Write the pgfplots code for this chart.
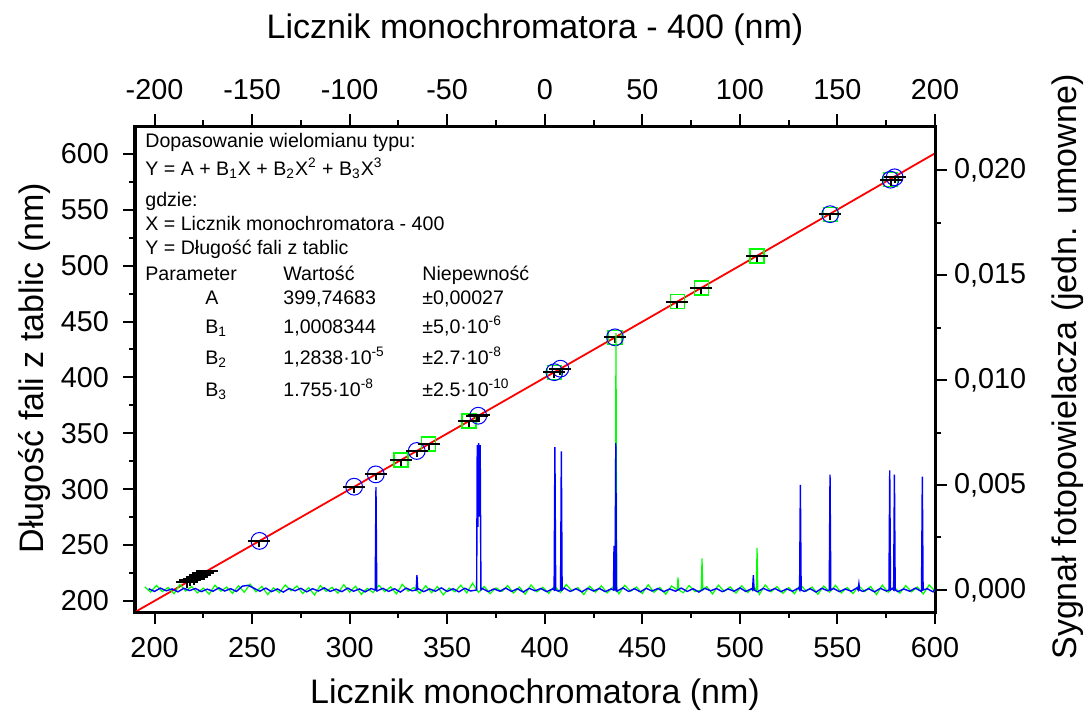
\documentclass[border=0pt]{standalone}
\usepackage{pgfplots}
\pgfplotsset{compat=1.18}
\usepackage{fontspec}
\setmainfont{Liberation Sans}

\definecolor{hgblue}{RGB}{0,0,255}
\definecolor{cdgreen}{RGB}{0,255,0}
\definecolor{fitred}{RGB}{255,0,0}

% horizontal bar with a short stem below the point
\pgfdeclareplotmark{tbar}{%
  \pgfpathmoveto{\pgfqpoint{-5.5pt}{0pt}}\pgfpathlineto{\pgfqpoint{5.5pt}{0pt}}%
  \pgfpathmoveto{\pgfqpoint{0pt}{0pt}}\pgfpathlineto{\pgfqpoint{0pt}{-3pt}}%
  \pgfusepathqstroke}

\newcommand{\tlfont}{\fontsize{14.4}{17}\selectfont}
\newcommand{\lblfont}{\fontsize{17}{20}\selectfont}
\newcommand{\boxfont}{\fontsize{9.8}{12}\selectfont}

\pgfplotsset{
  common/.style={
    scale only axis, width=400pt, height=243pt,
    xmin=190, xmax=600,
    tick align=outside,
    major tick length=6pt, minor tick length=3pt,
    every tick/.style={black, line width=1pt},
    axis line style={line width=1.5pt},
    tick label style={font=\tlfont},
    /pgf/number format/assume math mode=true,
  }
}

\begin{document}
\begin{tikzpicture}
\path[use as bounding box] (-67.5pt,-54pt) rectangle (475pt,306pt);

% wavelength calibration: table wavelength vs. counter reading
\begin{axis}[common,
  ymin=190, ymax=625,
  xtick={200,250,...,600}, minor x tick num=1,
  ytick={200,250,...,600}, minor y tick num=1,
  xtick pos=left, ytick pos=left,
  xticklabel style={yshift=-3pt},
  yticklabel style={xshift=-3.5pt},
]
% Cd lines
\addplot[only marks, mark=square, mark size=3.5pt, draw=cdgreen, line width=0.6pt,
  mark options={fill=none}] coordinates {
  (326.3,326.11) (340.6,340.37) (361.2,361.05) (404.9,404.66) (436.0,435.83)
  (468.0,467.82) (480.2,479.99) (508.8,508.58) (546.3,546.07) (577.2,576.96)
};
% Hg lines
\addplot[only marks, mark=o, mark size=4.2pt, draw=hgblue, line width=0.5pt] coordinates {
  (253.8,253.65) (302.3,302.15) (313.4,313.18) (334.4,334.15) (365.9,365.70)
  (404.9,404.66) (408.0,407.78) (436.0,435.83) (546.3,546.07) (577.2,576.96) (579.3,579.07)
};
% all measured positions
\addplot[only marks, mark=tbar, draw=black, line width=1pt] coordinates {
  (216.6,216.5) (218.4,218.3) (220.0,219.9) (221.6,221.5) (223.2,223.1) (225.0,224.9)
  (227.0,226.9)
  (253.8,253.65) (302.3,302.15) (313.4,313.18) (326.3,326.11) (334.4,334.15)
  (340.6,340.37) (361.2,361.05) (365.3,365.02) (366.5,366.33) (404.9,404.66)
  (408.0,407.78) (436.0,435.83) (468.0,467.82) (480.2,479.99) (508.8,508.58)
  (546.3,546.07) (577.2,576.96) (579.3,579.07)
};
% cubic fit
\addplot[fitred, line width=0.9pt] coordinates {
  (190,189.98) (250,249.85) (300,299.78) (350,349.74) (400,399.75)
  (450,449.82) (500,499.98) (550,550.22) (600,600.57)
};
\end{axis}

% photomultiplier signal, top counter axis
\begin{axis}[common,
  ymin=-0.00105, ymax=0.0221,
  xtick={200,250,...,600}, minor x tick num=1,
  xticklabels={-200,-150,-100,-50,0,50,100,150,200},
  ytick={0,0.005,0.01,0.015,0.02}, minor y tick num=1,
  xtick pos=right, ytick pos=right,
  xticklabel pos=right, yticklabel pos=right,
  scaled y ticks=false,
  yticklabel style={/pgf/number format/.cd, fixed, fixed zerofill, precision=3, use comma},
  xticklabel style={yshift=3.5pt},
]
% Cd lamp
\addplot[cdgreen, line width=0.6pt] coordinates {
  (195,1.5e-4) (198,-1.0e-4) (201,2.2e-4) (204,-0.8e-4) (207,1.2e-4) (210,-1.8e-4)
  (213,2.6e-4) (216,-0.5e-4) (219,1.6e-4) (222,-1.4e-4) (225,0.9e-4) (228,-2.0e-4)
  (231,2.3e-4) (234,-0.6e-4) (237,1.4e-4) (240,-1.6e-4) (243,2.0e-4) (246,-1.1e-4)
  (249,2.8e-4) (252,-0.9e-4) (255,1.7e-4) (258,-2.2e-4) (261,1.0e-4) (264,-1.3e-4)
  (267,2.4e-4) (270,-0.4e-4) (273,1.9e-4) (276,-1.7e-4) (279,1.1e-4) (282,-2.4e-4)
  (285,2.1e-4) (288,-0.7e-4) (291,1.3e-4) (294,-1.5e-4) (297,2.5e-4) (300,-1.0e-4)
  (303,1.8e-4) (306,-2.1e-4) (309,0.8e-4) (312,-1.2e-4) (315,2.2e-4) (318,-0.8e-4)
  (321,1.5e-4) (324,-1.9e-4) (327,2.7e-4) (330,-0.6e-4) (333,1.2e-4) (336,-1.6e-4)
  (339,2.0e-4) (342,-1.3e-4) (345,1.6e-4) (348,-2.3e-4) (351,0.9e-4) (354,-0.9e-4)
  (357,2.3e-4) (360,-1.4e-4) (363,3.2e-4) (366,-1.1e-4) (369,1.7e-4) (372,-1.8e-4)
  (375,1.0e-4) (378,-0.7e-4) (381,2.1e-4) (384,-1.5e-4) (387,1.4e-4) (390,-2.0e-4)
  (393,2.4e-4) (396,-0.9e-4) (399,1.3e-4) (402,-1.6e-4) (405,1.9e-4) (408,-1.2e-4)
  (411,2.6e-4) (414,-0.5e-4) (417,1.1e-4) (420,-2.2e-4) (423,1.8e-4) (426,-1.0e-4)
  (429,2.0e-4) (432,-1.4e-4) (435,1.5e-4)
  (436.1,0) (436.5,0.01224) (436.9,0)
  (438,-1.8e-4) (441,2.2e-4) (444,-0.6e-4) (447,1.4e-4) (450,-1.7e-4) (453,2.5e-4)
  (456,-1.1e-4) (459,1.2e-4) (462,-2.0e-4) (465,1.9e-4)
  (467.9,0) (468.3,0.0006) (468.7,0)
  (471,-1.3e-4) (474,2.1e-4) (477,-0.8e-4)
  (480.2,0) (480.6,0.0015) (481.0,0)
  (483,1.6e-4) (486,-1.9e-4) (489,2.3e-4) (492,-0.7e-4) (495,1.5e-4) (498,-1.5e-4)
  (501,2.0e-4) (504,-1.2e-4) (507,1.3e-4)
  (508.4,0) (508.8,0.0020) (509.2,0)
  (510,-2.1e-4) (513,2.4e-4) (516,-0.9e-4) (519,1.6e-4) (522,-1.6e-4) (525,1.1e-4)
  (528,-1.8e-4) (531,2.6e-4) (534,-0.6e-4) (537,1.4e-4) (540,-2.0e-4) (543,1.9e-4)
  (546,-1.0e-4) (549,2.2e-4) (552,-1.4e-4) (555,1.2e-4) (558,-1.7e-4) (561,2.0e-4)
  (564,-0.8e-4) (567,1.7e-4) (570,-2.2e-4) (573,2.3e-4) (576,-1.1e-4) (579,1.5e-4)
  (582,-1.5e-4) (585,2.1e-4) (588,-0.9e-4) (591,1.4e-4) (594,-1.9e-4) (597,2.4e-4)
  (600,-0.6e-4)
};
% Hg lamp
\addplot[hgblue, line width=0.7pt] coordinates {
  (197,0.6e-4) (200,-0.7e-4) (203,0.9e-4) (206,-0.4e-4) (209,0.5e-4) (212,-0.9e-4)
  (215,0.8e-4) (218,-0.3e-4) (221,0.7e-4) (224,-0.8e-4) (227,0.4e-4) (230,-0.6e-4)
  (233,1.0e-4) (236,-0.5e-4) (239,0.6e-4) (242,-0.7e-4) (245,1.8e-4) (248,2.2e-4)
  (251,0.8e-4) (254,-0.6e-4) (257,0.9e-4) (260,-0.8e-4) (263,0.5e-4) (266,-1.0e-4)
  (269,0.7e-4) (272,-0.4e-4) (275,0.8e-4) (278,-0.9e-4) (281,0.6e-4) (284,-0.5e-4)
  (287,1.0e-4) (290,-0.7e-4) (293,0.4e-4) (296,-0.8e-4) (299,0.9e-4) (302,-0.6e-4)
  (305,0.5e-4) (308,-0.9e-4) (311,0.7e-4)
  (313.1,0) (313.5,0.0049) (313.9,0)
  (314,-0.5e-4) (317,0.8e-4) (320,-0.7e-4) (323,0.6e-4) (326,-1.0e-4) (329,0.9e-4)
  (332,-0.4e-4)
  (334.1,0) (334.5,0.0007) (334.9,0)
  (335,0.7e-4) (338,-0.8e-4) (341,0.5e-4) (344,-0.6e-4) (347,1.0e-4) (350,-0.7e-4)
  (353,0.6e-4) (356,-0.9e-4) (359,0.8e-4) (362,-0.5e-4)
  (365.1,0) (365.4,0.0069) (365.7,0.0030) (366.1,0.0070) (366.5,0.0035) (366.9,0.0069) (367.3,0)
  (368,0.7e-4) (371,-0.8e-4) (374,0.5e-4) (377,-0.6e-4) (380,0.9e-4) (383,-0.7e-4)
  (386,0.6e-4) (389,-1.0e-4) (392,0.8e-4) (395,-0.4e-4) (398,0.7e-4) (401,-0.8e-4)
  (404,0.5e-4)
  (404.8,0) (405.2,0.0068) (405.6,0)
  (407,-0.6e-4)
  (408.1,0) (408.5,0.0066) (408.9,0)
  (410,0.9e-4) (413,-0.7e-4) (416,0.6e-4) (419,-0.9e-4) (422,0.8e-4) (425,-0.5e-4)
  (428,0.7e-4) (431,-0.8e-4) (434,0.5e-4)
  (435.2,0) (435.5,0.0021) (435.8,0) (436.0,0) (436.4,0.0070) (436.8,0)
  (437,-0.6e-4) (440,1.0e-4) (443,-0.7e-4) (446,0.6e-4) (449,-0.9e-4) (452,0.8e-4)
  (455,-0.5e-4) (458,0.7e-4) (461,-0.8e-4) (464,0.5e-4) (467,-0.6e-4) (470,0.9e-4)
  (473,-0.7e-4) (476,0.6e-4) (479,-1.0e-4) (482,0.8e-4) (485,-0.4e-4) (488,0.7e-4)
  (491,-0.8e-4) (494,0.5e-4) (497,-0.6e-4) (500,1.0e-4) (503,-0.7e-4) (506,0.6e-4)
  (506.5,0) (506.9,0.0007) (507.3,0)
  (509,-0.9e-4) (512,0.8e-4) (515,-0.5e-4) (518,0.7e-4) (521,-0.8e-4) (524,0.5e-4)
  (527,-0.6e-4) (530,0.9e-4)
  (530.6,0) (531.0,0.0050) (531.4,0)
  (533,-0.7e-4) (536,0.6e-4) (539,-1.0e-4) (542,0.8e-4) (545,-0.4e-4)
  (545.8,0) (546.2,0.0055) (546.6,0)
  (548,0.7e-4) (551,-0.8e-4) (554,0.5e-4) (557,-0.6e-4) (560,1.0e-4)
  (560.6,0) (561.0,0.0003) (561.4,0)
  (563,-0.7e-4) (566,0.6e-4) (569,-0.9e-4) (572,0.8e-4) (575,-0.5e-4)
  (576.4,0) (576.8,0.0057) (577.2,0)
  (578,0.7e-4)
  (578.8,0) (579.2,0.0055) (579.6,0)
  (581,-0.8e-4) (584,0.5e-4) (587,-0.6e-4) (590,0.9e-4) (593,-0.7e-4)
  (593.1,0) (593.5,0.0054) (593.9,0)
  (596,0.6e-4) (599,-0.9e-4) (600,0.3e-4)
};
\end{axis}

% axis titles
\node[font=\lblfont] at (200pt,-41.5pt) {Licznik monochromatora (nm)};
\node[font=\lblfont] at (200pt,291pt) {Licznik monochromatora - 400 (nm)};
\node[font=\lblfont, rotate=90] at (-50pt,122pt) {Długość fali z tablic (nm)};
\node[font=\lblfont, rotate=90] at (466.5pt,122.5pt) {Sygnał fotopowielacza (jedn. umowne)};

% fit summary
\begin{scope}[every node/.style={font=\boxfont, anchor=base west, inner sep=0pt}]
\node at (5pt,232.5pt) {Dopasowanie wielomianu typu:};
\node at (5pt,218.5pt) {Y = A + B\textsubscript{1}X + B\textsubscript{2}X\textsuperscript{2} + B\textsubscript{3}X\textsuperscript{3}};
\node at (5pt,203pt) {gdzie:};
\node at (5pt,191pt) {X = Licznik monochromatora - 400};
\node at (5pt,179pt) {Y = Długość fali z tablic};
\node at (5pt,166pt) {Parameter};
\node at (74pt,166pt) {Wartość};
\node at (143.5pt,166pt) {Niepewność};
\node at (35pt,154pt) {A};
\node at (74pt,154pt) {399,74683};
\node at (143.5pt,154pt) {±0,00027};
\node at (35pt,139.5pt) {B\textsubscript{1}};
\node at (74pt,139.5pt) {1,0008344};
\node at (143.5pt,139.5pt) {±5,0\textperiodcentered 10\textsuperscript{-6}};
\node at (35pt,124pt) {B\textsubscript{2}};
\node at (74pt,124pt) {1,2838\textperiodcentered 10\textsuperscript{-5}};
\node at (143.5pt,124pt) {±2.7\textperiodcentered 10\textsuperscript{-8}};
\node at (35pt,108pt) {B\textsubscript{3}};
\node at (74pt,108pt) {1.755\textperiodcentered 10\textsuperscript{-8}};
\node at (143.5pt,108pt) {±2.5\textperiodcentered 10\textsuperscript{-10}};
\end{scope}
\end{tikzpicture}
\end{document}
